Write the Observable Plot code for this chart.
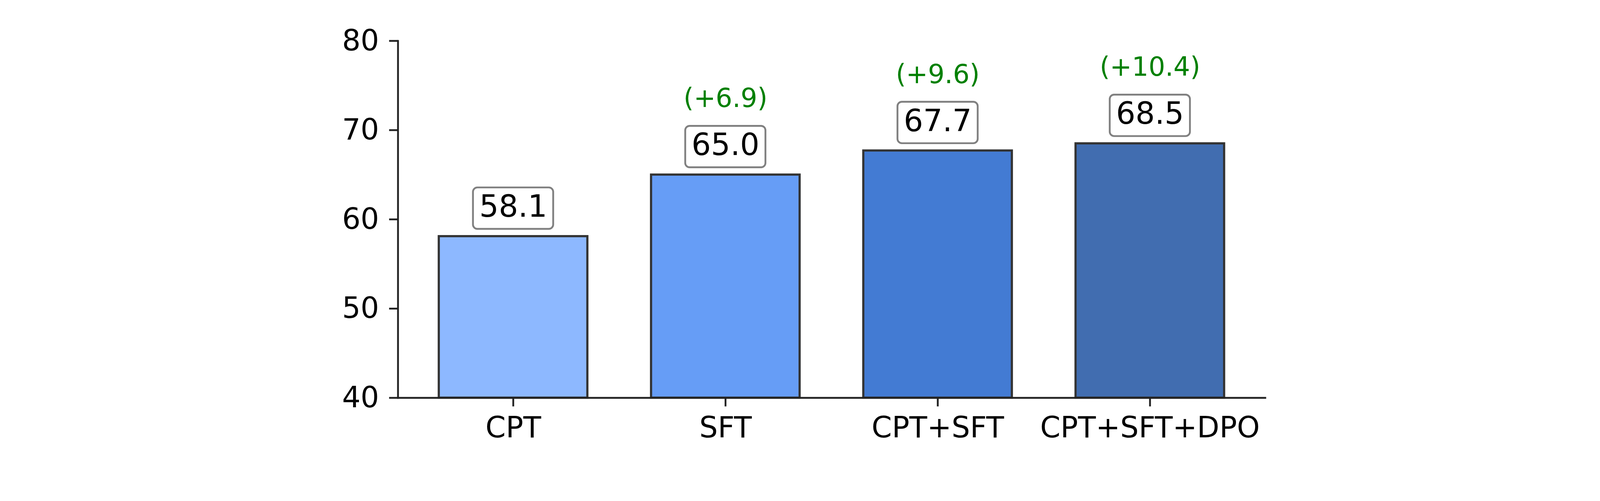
<!DOCTYPE html>
<html>
<head>
<meta charset="utf-8">
<script src="https://cdn.jsdelivr.net/npm/d3@7"></script>
<script src="https://cdn.jsdelivr.net/npm/@observablehq/plot@0.6"></script>
<style>
  html, body { margin: 0; padding: 0; background: #fff; }
  #chart svg { display: block; }
</style>
</head>
<body>
<div id="chart"></div>
<script>
const categories = ["CPT", "SFT", "CPT+SFT", "CPT+SFT+DPO"];
const scores = [58.1, 65.0, 67.7, 68.5];
const gains = [null, "(+6.9)", "(+9.6)", "(+10.4)"];
const barColors = ["#8db8ff", "#669df6", "#437bd3", "#416db0"];
const yTicks = [40, 50, 60, 70, 80];

const data = categories.map((c, i) => ({
  cat: c, value: scores[i], label: scores[i].toFixed(1), gain: gains[i], color: barColors[i]
}));
const gainData = data.filter(d => d.gain);

const font = "DejaVu Sans";

const chart = Plot.plot({
  width: 4400,
  height: 1283,
  marginLeft: 1094,
  marginRight: 921,
  marginTop: 112,
  marginBottom: 189,
  style: { fontFamily: font, background: "#fff", overflow: "visible" },
  x: { domain: categories, paddingInner: 0.3, paddingOuter: 0.193, round: false, label: null },
  y: { domain: [40, 80], ticks: yTicks, label: null },
  marks: [
    Plot.barY(data, { x: "cat", y1: 40, y2: "value", fill: "color", stroke: "#333", strokeWidth: 6 }),
    Plot.barY(data, { x: "cat", y1: "value", y2: "value", insetLeft: 94, insetRight: 94, insetTop: -134, insetBottom: 20,
      fill: "white", stroke: "#808080", strokeWidth: 5, rx: 12 }),
    Plot.text(data, { x: "cat", y: "value", text: "label", dy: -54, lineAnchor: "bottom", textAnchor: "middle",
      fontSize: 84, fill: "#000", fontFamily: font }),
    Plot.text(gainData, { x: "cat", y: "value", text: "gain", dy: -186, lineAnchor: "bottom", textAnchor: "middle",
      fontSize: 72, fill: "green", fontFamily: font }),
    Plot.frame({ anchor: "left", stroke: "#222", strokeWidth: 5 }),
    Plot.frame({ anchor: "bottom", stroke: "#222", strokeWidth: 5 }),
    Plot.axisY({ ticks: yTicks, tickSize: 24, tickPadding: 28, fontSize: 80, stroke: "#222", strokeWidth: 5, fill: "#000", label: null }),
    Plot.axisX({ tickSize: 24, tickPadding: 28, fontSize: 80, stroke: "#222", strokeWidth: 5, fill: "#000", label: null })
  ]
});
document.getElementById("chart").appendChild(chart);
</script>
</body>
</html>
